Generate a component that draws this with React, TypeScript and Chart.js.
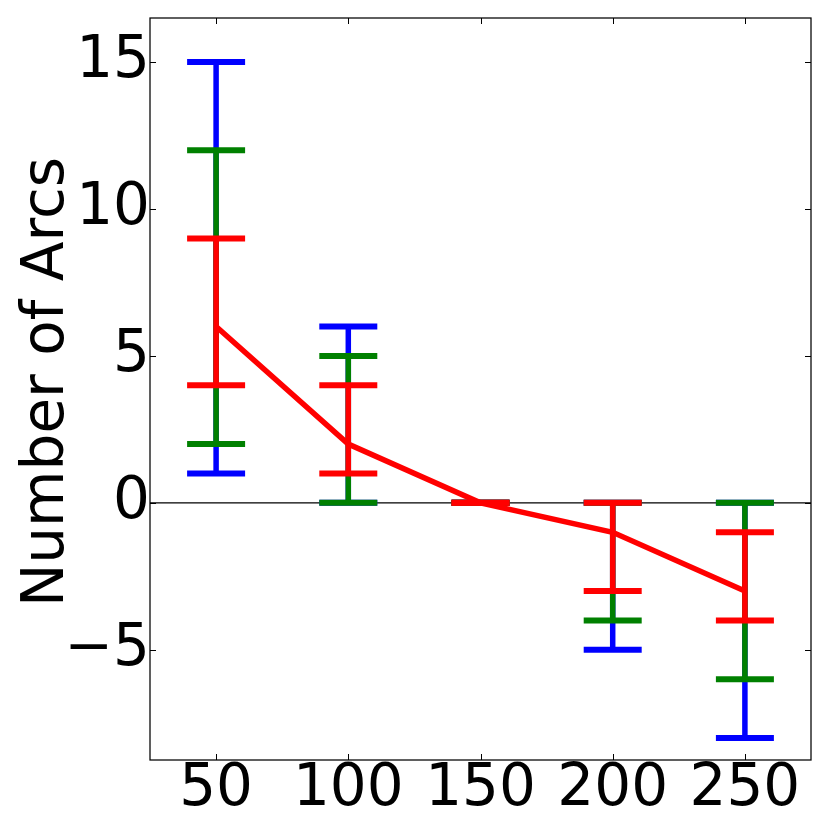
import React, { useEffect, useRef } from "react";
import { Chart, registerables } from "chart.js";

Chart.register(...registerables);

const xValues = [50, 100, 150, 200, 250];
const meanValues = [6, 2, 0, -1, -3];
const blueLow = [1, 0, 0, -5, -8];
const blueHigh = [15, 6, 0, 0, 0];
const greenLow = [2, 0, 0, -4, -6];
const greenHigh = [12, 5, 0, 0, 0];
const redLow = [4, 1, 0, -3, -4];
const redHigh = [9, 4, 0, 0, -1];
const xTicks = [50, 100, 150, 200, 250];
const yTicks = [-5, 0, 5, 10, 15];
const xLimits = [25, 275];
const yLimits = [-8.75, 16.5];
const yLabel = "Number of Arcs";

const FONT = '"DejaVu Sans", sans-serif';

function errorBarPoints(low: number[], high: number[]) {
  const pts: { x: number; y: number | null }[] = [];
  xValues.forEach((x, i) => {
    pts.push({ x, y: low[i] }, { x, y: high[i] }, { x, y: null });
  });
  return pts;
}

function errorDataset(low: number[], high: number[], color: string, order: number) {
  return {
    data: errorBarPoints(low, high),
    borderColor: color,
    backgroundColor: color,
    borderWidth: 5.5,
    pointStyle: "line",
    pointRadius: 29,
    pointHoverRadius: 29,
    pointBorderWidth: 6,
    pointBorderColor: color,
    pointBackgroundColor: color,
    spanGaps: false,
    tension: 0,
    order,
  };
}

const framePlugin = {
  id: "mplFrame",
  afterDatasetsDraw(chart: any) {
    const { ctx, chartArea: a, scales } = chart;
    ctx.save();
    ctx.strokeStyle = "#000";
    ctx.lineWidth = 1.25;
    ctx.strokeRect(a.left, a.top, a.right - a.left, a.bottom - a.top);
    ctx.lineWidth = 1;
    const L = 6;
    const seg = (x1: number, y1: number, x2: number, y2: number) => {
      ctx.beginPath();
      ctx.moveTo(x1, y1);
      ctx.lineTo(x2, y2);
      ctx.stroke();
    };
    xTicks.forEach((v) => {
      const px = Math.round(scales.x.getPixelForValue(v)) + 0.5;
      seg(px, a.bottom, px, a.bottom - L);
      seg(px, a.top, px, a.top + L);
    });
    yTicks.forEach((v) => {
      const py = Math.round(scales.y.getPixelForValue(v)) + 0.5;
      seg(a.left, py, a.left + L, py);
      seg(a.right, py, a.right - L, py);
    });
    ctx.fillStyle = "#000";
    ctx.font = `58px ${FONT}`;
    ctx.textAlign = "center";
    ctx.textBaseline = "alphabetic";
    ctx.translate(63, (a.top + a.bottom) / 2 - 7);
    ctx.rotate(-Math.PI / 2);
    ctx.fillText(yLabel, 0, 0);
    ctx.restore();
  },
};

const zeroPad = (s: any) => {
  s.paddingLeft = 0;
  s.paddingRight = 0;
  s.paddingTop = 0;
  s.paddingBottom = 0;
};

export default function App() {
  const ref = useRef<HTMLCanvasElement | null>(null);
  useEffect(() => {
    if (!ref.current) return;
    const chart = new Chart(ref.current, {
      type: "line",
      data: {
        datasets: [
          {
            data: xValues.map((x, i) => ({ x, y: meanValues[i] })),
            borderColor: "#ff0000",
            borderWidth: 5.5,
            pointRadius: 0,
            tension: 0,
            order: 0,
          } as any,
          errorDataset(redLow, redHigh, "#ff0000", 1) as any,
          errorDataset(greenLow, greenHigh, "#008000", 2) as any,
          errorDataset(blueLow, blueHigh, "#0000ff", 3) as any,
          {
            data: [
              { x: xLimits[0], y: 0 },
              { x: xLimits[1], y: 0 },
            ],
            borderColor: "#000",
            borderWidth: 1.2,
            pointRadius: 0,
            order: 10,
          } as any,
        ],
      },
      options: {
        animation: false,
        responsive: false,
        maintainAspectRatio: false,
        events: [],
        layout: { autoPadding: false, padding: { top: 18, right: 19, left: 0, bottom: 0 } },
        plugins: {
          legend: { display: false },
          tooltip: { enabled: false },
        },
        scales: {
          x: {
            type: "linear",
            min: xLimits[0],
            max: xLimits[1],
            grid: { display: false, drawTicks: false },
            border: { display: false },
            afterBuildTicks: (s: any) => {
              s.ticks = xTicks.map((v) => ({ value: v }));
            },
            afterFit: (s: any) => {
              s.height = 70;
              zeroPad(s);
            },
            ticks: {
              padding: -5,
              maxRotation: 0,
              autoSkip: false,
              color: "#000",
              font: { family: FONT, size: 58 },
              callback: (v: any) => String(v),
            },
          },
          y: {
            type: "linear",
            min: yLimits[0],
            max: yLimits[1],
            grid: { display: false, drawTicks: false },
            border: { display: false },
            afterBuildTicks: (s: any) => {
              s.ticks = yTicks.map((v) => ({ value: v }));
            },
            afterFit: (s: any) => {
              s.width = 150;
              zeroPad(s);
            },
            ticks: {
              padding: 0,
              autoSkip: false,
              color: "#000",
              font: { family: FONT, size: 58 },
              callback: (v: any) => (v < 0 ? "\u2212" + Math.abs(v) : String(v)),
            },
          },
        },
      },
      plugins: [framePlugin],
    });
    return () => chart.destroy();
  }, []);
  return (
    <div style={{ position: "absolute", left: 0, top: 0, width: 830, height: 830, background: "#fff" }}>
      <canvas ref={ref} width={830} height={830} style={{ display: "block" }} />
    </div>
  );
}
